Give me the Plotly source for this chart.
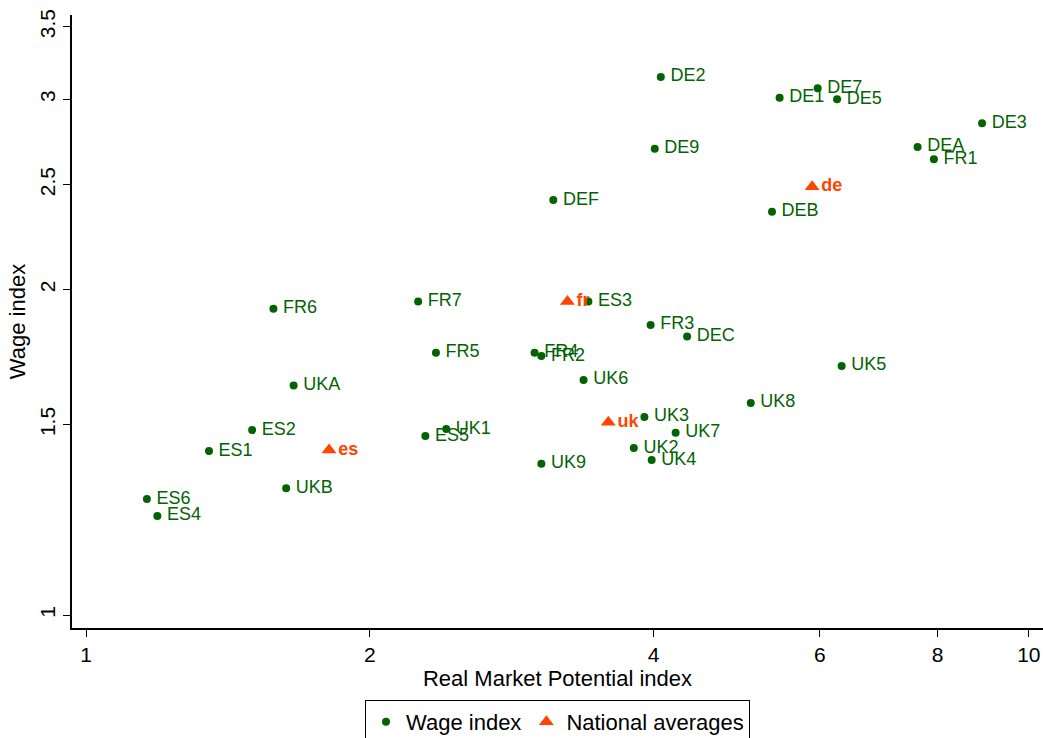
import plotly.graph_objects as go

# Regional data
regions = ["DE2", "DE7", "DE1", "DE5", "DE3", "DEA", "FR1", "DE9", "DEF", "DEB",
           "FR6", "FR7", "ES3", "FR3", "DEC", "FR5", "FR4", "FR2", "UK6", "UKA",
           "UK5", "UK8", "UK3", "UK7", "UK1", "ES5", "ES2", "ES1", "UK2", "UK4",
           "UK9", "UKB", "ES6", "ES4"]
rmp = [4.07, 5.97, 5.44, 6.26, 8.92, 7.62, 7.93, 4.01, 3.13, 5.34,
       1.58, 2.25, 3.41, 3.97, 4.34, 2.35, 2.99, 3.04, 3.37, 1.66,
       6.33, 5.07, 3.91, 4.22, 2.41, 2.29, 1.50, 1.35, 3.81, 3.98,
       3.04, 1.63, 1.16, 1.19]
wage = [3.146, 3.07, 3.01, 3.00, 2.85, 2.71, 2.64, 2.70, 2.42, 2.36,
        1.92, 1.95, 1.95, 1.855, 1.81, 1.748, 1.748, 1.736, 1.65, 1.63,
        1.70, 1.571, 1.525, 1.474, 1.486, 1.464, 1.483, 1.418, 1.427, 1.391,
        1.38, 1.31, 1.28, 1.235]

# National averages
countries = ["de", "fr", "uk", "es"]
nat_rmp = [5.89, 3.24, 3.58, 1.81]
nat_wage = [2.49, 1.95, 1.508, 1.421]

x_ticks = [1, 2, 4, 6, 8, 10]
y_ticks = [1, 1.5, 2, 2.5, 3, 3.5]
y_ticktext = ["1", "1.5", "2", "2.5", "3", "3.5"]

GREEN = "#036303"
ORANGE = "#FF4500"
FONT = "Arial, Liberation Sans, sans-serif"
PAD = "\u2009"

fig = go.Figure()
fig.add_trace(go.Scatter(
    x=rmp, y=wage, text=[PAD + r for r in regions], mode="markers+text",
    textposition="middle right",
    textfont=dict(color=GREEN, size=18, family=FONT),
    marker=dict(color=GREEN, size=8, symbol="circle"),
    name="Wage index", cliponaxis=False,
))
fig.add_trace(go.Scatter(
    x=nat_rmp, y=nat_wage, text=countries, mode="markers+text",
    textposition="middle right",
    textfont=dict(color=ORANGE, size=18, family=FONT, weight="bold"),
    marker=dict(color=ORANGE, size=13, symbol="triangle-up"),
    name="National averages", cliponaxis=False,
))

fig.update_layout(
    width=1043, height=738,
    margin=dict(l=72, r=0, t=15, b=110, autoexpand=False),
    paper_bgcolor="white", plot_bgcolor="white",
    font=dict(family=FONT, color="black", size=20),
    showlegend=True,
    legend=dict(
        orientation="h", x=0.5, xanchor="center",
        yref="container", y=0.0515, yanchor="top",
        bordercolor="black", borderwidth=1, font=dict(size=22),
        itemsizing="trace",
    ),
)
fig.update_xaxes(
    type="log", range=[-0.015, 1.015], automargin=False,
    tickvals=x_ticks, ticktext=[str(t) for t in x_ticks],
    tickfont=dict(size=21),
    showline=True, linecolor="black", linewidth=1.5, mirror=False,
    ticks="outside", ticklen=7, tickcolor="black", showgrid=False, zeroline=False,
    title=dict(text="Real Market Potential index", font=dict(size=22), standoff=4),
)
fig.update_yaxes(
    type="log", range=[-0.012, 0.555], automargin=False,
    tickvals=y_ticks, ticktext=y_ticktext,
    tickangle=-90, tickfont=dict(size=21),
    showline=True, linecolor="black", linewidth=1.5, mirror=False,
    ticks="outside", ticklen=7, tickcolor="black", showgrid=False, zeroline=False,
    title=dict(text="Wage index", font=dict(size=22), standoff=4),
)

fig.write_html("out.html", config={"displayModeBar": False},
               post_script="document.body.style.margin='0px';")
